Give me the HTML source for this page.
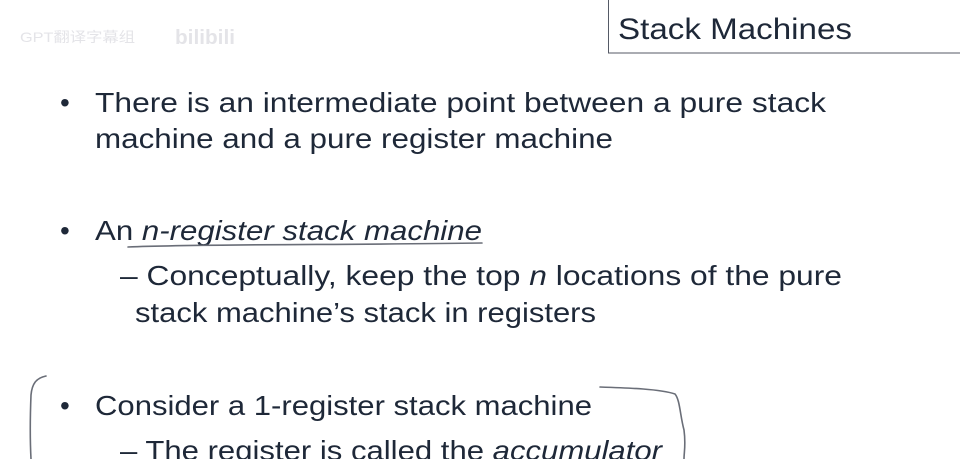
<!DOCTYPE html>
<html><head><style>
html,body{margin:0;padding:0;background:#fff;width:960px;height:459px;overflow:hidden}
svg{display:block}
text{font-family:"Liberation Sans",sans-serif;fill:#1e2838}
</style></head><body>
<svg width="960" height="459" viewBox="0 0 960 459">
<text x="20" y="42" font-size="14" fill="#e6e6ea" style="fill:#e4e4e8" textLength="115" lengthAdjust="spacingAndGlyphs">GPT翻译字幕组</text>
<text x="175" y="44" font-size="20" style="fill:#e4e4e8" font-weight="bold" textLength="60" lengthAdjust="spacingAndGlyphs">bilibili</text>
<rect x="608.5" y="-2" width="360" height="55" fill="none" stroke="#555a66" stroke-width="1"/>
<text x="618" y="39" font-size="30" textLength="234" lengthAdjust="spacingAndGlyphs">Stack Machines</text>
<g font-size="28">
<text x="60" y="112">•</text>
<text x="95" y="112" textLength="731" lengthAdjust="spacingAndGlyphs">There is an intermediate point between a pure stack</text>
<text x="95" y="148" textLength="518" lengthAdjust="spacingAndGlyphs">machine and a pure register machine</text>
<text x="60" y="240">•</text>
<text x="95" y="240" textLength="387" lengthAdjust="spacingAndGlyphs">An <tspan font-style="italic">n-register stack machine</tspan></text>
<text x="120" y="285" textLength="722" lengthAdjust="spacingAndGlyphs">– Conceptually,  keep the top <tspan font-style="italic">n</tspan> locations of the pure</text>
<text x="135" y="322" textLength="461" lengthAdjust="spacingAndGlyphs">stack machine’s stack in registers</text>
<text x="60" y="415">•</text>
<text x="95" y="415" textLength="497" lengthAdjust="spacingAndGlyphs">Consider a 1-register stack machine</text>
<text x="120" y="460" textLength="542" lengthAdjust="spacingAndGlyphs">– The register is called the <tspan font-style="italic">accumulator</tspan></text>
</g>
<g fill="none" stroke="#6a6e78" stroke-width="1.6" stroke-linecap="round">
<path d="M128 247 C200 244 350 245 482 243"/>
<path d="M46 376 C36 378 32 384 31 395 C30 420 30 440 31 459"/>
<path d="M600 387 C630 388 660 389 675 394 C680 400 680 415 684 430 C686 445 684 452 684 459"/>
</g>
</svg>
</body></html>
